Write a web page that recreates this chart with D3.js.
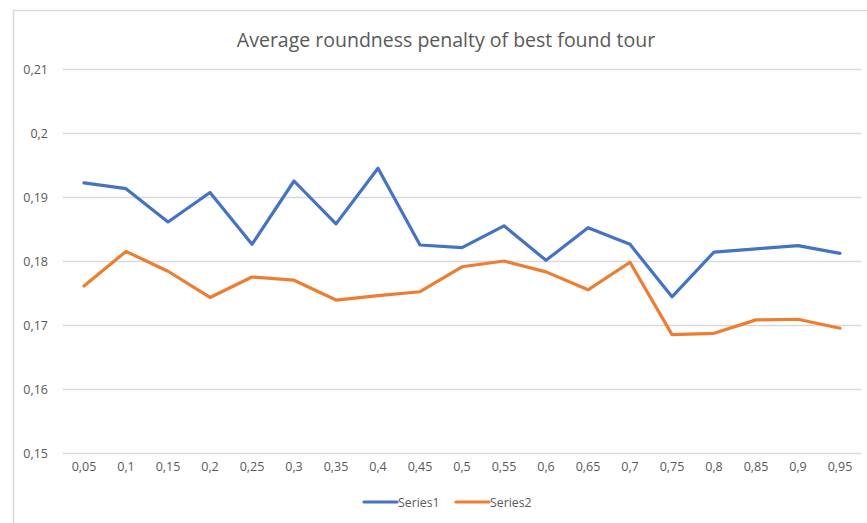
<!DOCTYPE html>
<html><head><meta charset="utf-8">
<script src="https://cdn.jsdelivr.net/npm/d3@7"></script>
<style>body{margin:0;background:#fff;}svg{display:block;}</style>
</head><body>
<svg id="c" width="867" height="523"></svg>
<script>
const categories = ["0,05","0,1","0,15","0,2","0,25","0,3","0,35","0,4","0,45","0,5","0,55","0,6","0,65","0,7","0,75","0,8","0,85","0,9","0,95"];
const series1 = [0.1922,0.1913,0.1861,0.1907,0.1826,0.1925,0.1858,0.1945,0.1825,0.1821,0.1855,0.1801,0.1852,0.1826,0.1744,0.1814,0.1819,0.1824,0.1812];
const series2 = [0.1761,0.1815,0.1784,0.1743,0.1775,0.1770,0.1739,0.1746,0.1752,0.1791,0.1800,0.1783,0.1755,0.1798,0.1685,0.1687,0.1708,0.1709,0.1695];
const yTicks = [0.15,0.16,0.17,0.18,0.19,0.2,0.21];
const seriesNames = ["Series1","Series2"];
const colors = ["#4472C4","#ED7D31"];

const svg = d3.select("#c");
const font = "'Open Sans', 'Noto Sans', sans-serif";
const textColor = "#595959";

// frame
svg.append("line").attr("x1",13.5).attr("x2",13.5).attr("y1",10).attr("y2",523).attr("stroke","#d9d9d9").attr("stroke-width",1.5);
svg.append("line").attr("x1",13).attr("x2",867).attr("y1",10.5).attr("y2",10.5).attr("stroke","#d9d9d9").attr("stroke-width",1.5);

const x = d3.scaleBand().domain(categories).range([63,861]);
const y = d3.scaleLinear().domain([0.15,0.21]).range([453,69]);

// grid
svg.append("g").selectAll("line").data(yTicks).join("line")
  .attr("x1",63).attr("x2",861)
  .attr("y1",d=>Math.round(y(d))+0.5).attr("y2",d=>Math.round(y(d))+0.5)
  .attr("stroke","#d9d9d9").attr("stroke-width",1.3);

// y axis labels
const yAxis = d3.axisLeft(y).tickValues(yTicks).tickSize(0).tickPadding(0)
  .tickFormat(d=>String(+d.toFixed(2)).replace(".",","));
const gy = svg.append("g").attr("transform","translate(48,0)").call(yAxis);
gy.select(".domain").remove();
gy.selectAll("text").attr("font-family",font).attr("font-size",12.5).attr("fill",textColor);

// x axis labels
const xAxis = d3.axisBottom(x).tickSize(0).tickPadding(0);
const gx = svg.append("g").attr("transform","translate(0,462)").call(xAxis);
gx.select(".domain").remove();
gx.selectAll("text").attr("font-family",font).attr("font-size",12.5).attr("fill",textColor);

// lines
const line = d3.line().x((d,i)=>x(categories[i])+x.bandwidth()/2).y(d=>y(d));
[series1,series2].forEach((s,k)=>{
  svg.append("path").datum(s).attr("d",line).attr("fill","none")
    .attr("stroke",colors[k]).attr("stroke-width",3.2)
    .attr("stroke-linejoin","round").attr("stroke-linecap","round");
});

// title
svg.append("text").attr("x",446).attr("y",47).attr("text-anchor","middle")
  .attr("font-family",font).attr("font-size",19.5).attr("fill",textColor)
  .text("Average roundness penalty of best found tour");

// legend
const legX = [364,456];
seriesNames.forEach((n,k)=>{
  svg.append("line").attr("x1",legX[k]).attr("x2",legX[k]+33).attr("y1",502).attr("y2",502)
    .attr("stroke",colors[k]).attr("stroke-width",3.2).attr("stroke-linecap","round");
  svg.append("text").attr("x",legX[k]+34).attr("y",506.5).attr("font-family",font)
    .attr("font-size",12.3).attr("fill",textColor).text(n);
});
</script>
</body></html>
